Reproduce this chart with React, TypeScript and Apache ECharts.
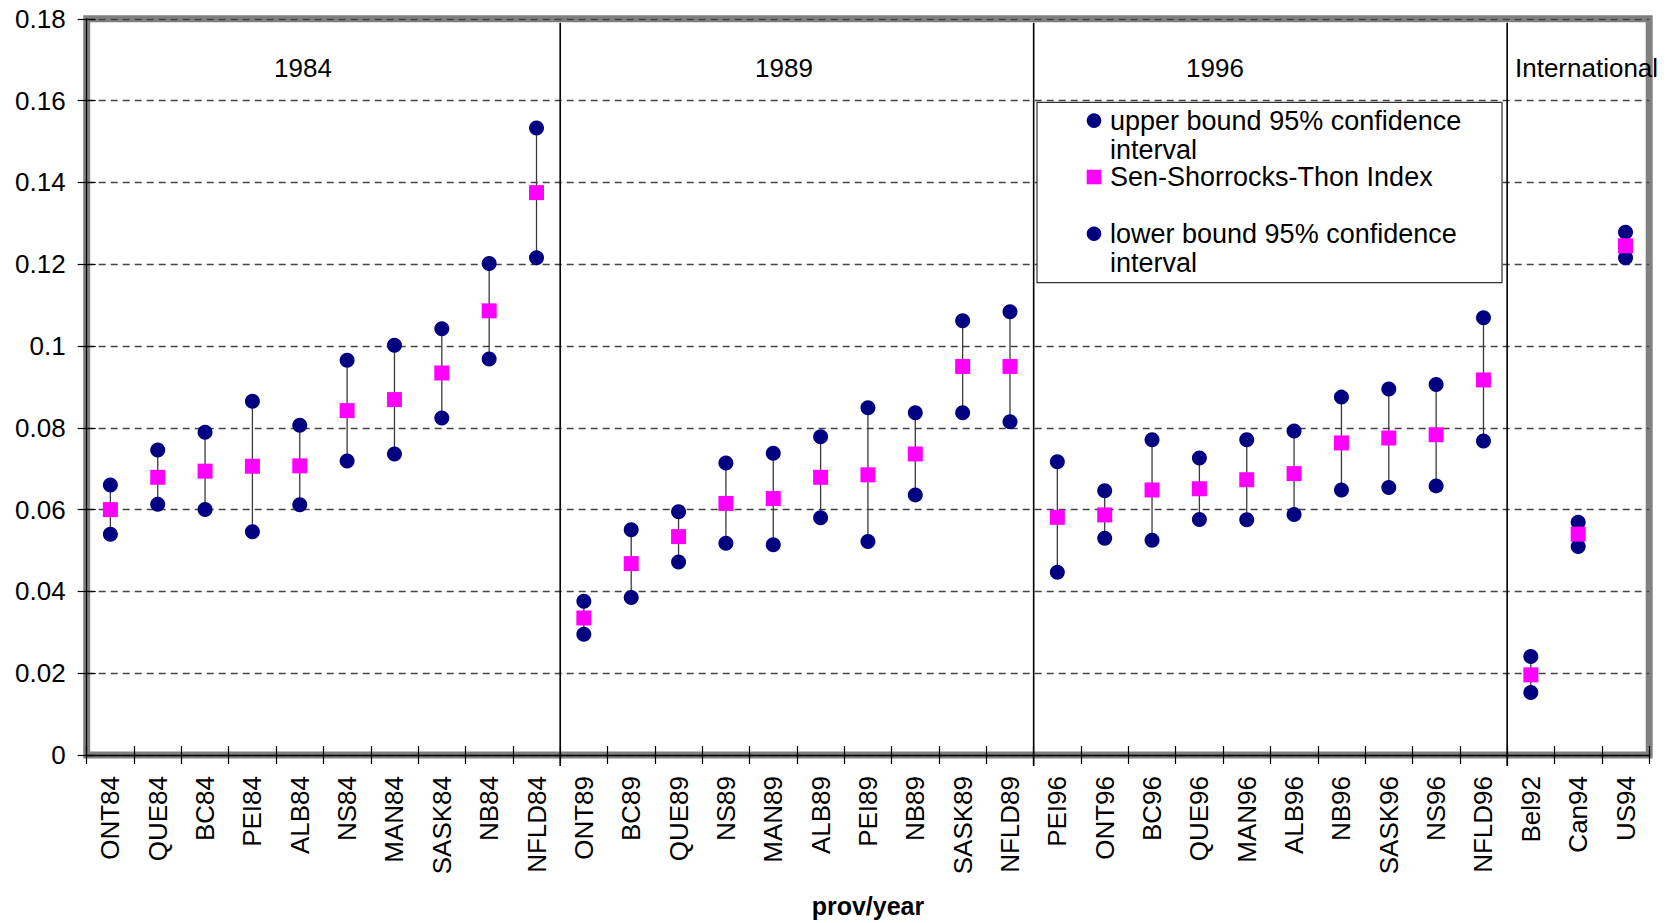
import React, { useEffect, useRef } from "react";
import * as echarts from "echarts";

const categories = [
  "ONT84", "QUE84", "BC84", "PEI84", "ALB84", "NS84", "MAN84", "SASK84", "NB84", "NFLD84",
  "ONT89", "BC89", "QUE89", "NS89", "MAN89", "ALB89", "PEI89", "NB89", "SASK89", "NFLD89",
  "PEI96", "ONT96", "BC96", "QUE96", "MAN96", "ALB96", "NB96", "SASK96", "NS96", "NFLD96",
  "Bel92", "Can94", "US94",
];

const upperBound = [
  0.066, 0.0746, 0.0789, 0.0865, 0.0806, 0.0965, 0.1002, 0.1042, 0.1202, 0.1533,
  0.0376, 0.0551, 0.0595, 0.0714, 0.0738, 0.0778, 0.0849, 0.0837, 0.1062, 0.1084,
  0.0717, 0.0646, 0.0771, 0.0726, 0.0771, 0.0792, 0.0875, 0.0895, 0.0906, 0.1069,
  0.0241, 0.0569, 0.1278,
];

const sstIndex = [
  0.06, 0.0679, 0.0694, 0.0706, 0.0707, 0.0842, 0.0869, 0.0934, 0.1086, 0.1375,
  0.0335, 0.0468, 0.0534, 0.0615, 0.0627, 0.0679, 0.0685, 0.0736, 0.095, 0.095,
  0.0581, 0.0587, 0.0648, 0.0651, 0.0673, 0.0688, 0.0763, 0.0775, 0.0783, 0.0917,
  0.0196, 0.054, 0.1245,
];

const lowerBound = [
  0.054, 0.0613, 0.06, 0.0546, 0.0612, 0.0719, 0.0736, 0.0824, 0.0968, 0.1216,
  0.0295, 0.0385, 0.0472, 0.0518, 0.0514, 0.058, 0.0522, 0.0636, 0.0837, 0.0815,
  0.0447, 0.053, 0.0525, 0.0576, 0.0575, 0.0588, 0.0648, 0.0654, 0.0658, 0.0768,
  0.0153, 0.051, 0.1216,
];

const groupLabels = ["1984", "1989", "1996", "International"];
const groupBreaks = [10, 20, 30];
const seriesNames = [
  "upper bound 95% confidence\ninterval",
  "Sen-Shorrocks-Thon Index",
  "lower bound 95% confidence\ninterval",
];
const yMin = 0;
const yMax = 0.18;
const yStep = 0.02;

const FONT = "'Liberation Sans', Arial, sans-serif";
const NAVY = "#000080";
const MAGENTA = "#FF00FF";

export default function App() {
  const ref = useRef<HTMLDivElement>(null);

  useEffect(() => {
    if (!ref.current) return;
    const chart = echarts.init(ref.current, undefined, { renderer: "svg" });

    const legendX = 1094;
    const textX = 1110;

    const option: any = {
      animation: false,
      backgroundColor: "#ffffff",
      textStyle: { fontFamily: FONT },
      grid: {
        left: 86.7,
        right: 23.8,
        top: 18.8,
        bottom: 165.6,
        show: true,
        borderColor: "#808080",
        borderWidth: 7,
        backgroundColor: "#ffffff",
      },
      xAxis: [
        {
          type: "category",
          data: categories,
          boundaryGap: true,
          name: "prov/year",
          nameLocation: "middle",
          nameGap: 138,
          nameTextStyle: { fontFamily: FONT, fontSize: 25, fontWeight: "bold", color: "#000" },
          axisLine: { show: true, lineStyle: { color: "#000", width: 1.3 } },
          axisTick: { show: true, inside: false, length: 9, lineStyle: { color: "#000", width: 1.2 } },
          axisLabel: {
            rotate: 90,
            margin: 21,
            interval: 0,
            fontFamily: FONT,
            fontSize: 26,
            color: "#000",
          },
          splitLine: { show: false },
        },
        {
          type: "category",
          data: categories,
          boundaryGap: true,
          position: "bottom",
          axisLine: { show: false },
          axisTick: { show: true, inside: true, length: 9, interval: 0, lineStyle: { color: "#000", width: 1.2 } },
          axisLabel: { show: false },
          splitLine: { show: false },
        },
      ],
      yAxis: [
        {
          type: "value",
          min: yMin,
          max: yMax,
          interval: yStep,
          axisLine: { show: true, lineStyle: { color: "#000", width: 1.3 } },
          axisTick: { show: true, inside: false, length: 9, lineStyle: { color: "#000", width: 1.2 } },
          axisLabel: { margin: 21, fontFamily: FONT, fontSize: 26, color: "#000" },
          splitLine: { show: true, lineStyle: { color: "#444", width: 1.3, type: [7, 5] } },
        },
        {
          type: "value",
          min: yMin,
          max: yMax,
          interval: yStep,
          position: "left",
          axisLine: { show: false },
          axisTick: { show: true, inside: true, length: 9, lineStyle: { color: "#000", width: 1.2 } },
          axisLabel: { show: false },
          splitLine: { show: false },
        },
      ],
      series: [
        {
          type: "custom",
          name: "separators",
          clip: false,
          silent: true,
          z: 1,
          data: groupBreaks.map((b) => [b, yMin]),
          encode: { x: 0, y: 1 },
          renderItem: (params: any, api: any) => {
            const idx = api.value(0);
            const top = api.coord([idx, yMax]);
            const bottom = api.coord([idx, yMin]);
            const half = api.size([1, 0])[0] / 2;
            const x = top[0] - half;
            return {
              type: "line",
              shape: { x1: x, y1: top[1] + 4, x2: x, y2: bottom[1] + 11 },
              style: { stroke: "#000", lineWidth: 1.6 },
            };
          },
        },
        {
          type: "custom",
          name: "hi-lo",
          silent: true,
          z: 2,
          data: categories.map((c, i) => [i, lowerBound[i], upperBound[i]]),
          encode: { x: 0, y: [1, 2] },
          renderItem: (params: any, api: any) => {
            const x = api.value(0);
            const lo = api.coord([x, api.value(1)]);
            const hi = api.coord([x, api.value(2)]);
            return {
              type: "line",
              shape: { x1: lo[0], y1: lo[1], x2: hi[0], y2: hi[1] },
              style: { stroke: "#3a3a3a", lineWidth: 1.3 },
            };
          },
        },
        {
          type: "scatter",
          name: seriesNames[0],
          z: 3,
          symbol: "circle",
          symbolSize: 15,
          itemStyle: { color: NAVY, opacity: 1 },
          data: upperBound,
        },
        {
          type: "scatter",
          name: seriesNames[2],
          z: 3,
          symbol: "circle",
          symbolSize: 15,
          itemStyle: { color: NAVY, opacity: 1 },
          data: lowerBound,
        },
        {
          type: "scatter",
          name: seriesNames[1],
          z: 4,
          symbol: "rect",
          symbolSize: 15,
          itemStyle: { color: MAGENTA, opacity: 1 },
          data: sstIndex,
        },
      ],
      graphic: [
        {
          type: "text",
          z: 50,
          x: 303,
          y: 68,
          style: { text: groupLabels[0], font: `26px ${FONT}`, fill: "#000", align: "center", verticalAlign: "middle" },
        },
        {
          type: "text",
          z: 50,
          x: 784,
          y: 68,
          style: { text: groupLabels[1], font: `26px ${FONT}`, fill: "#000", align: "center", verticalAlign: "middle" },
        },
        {
          type: "text",
          z: 50,
          x: 1215,
          y: 68,
          style: { text: groupLabels[2], font: `26px ${FONT}`, fill: "#000", align: "center", verticalAlign: "middle" },
        },
        {
          type: "text",
          z: 50,
          x: 1515,
          y: 68,
          style: { text: groupLabels[3], font: `26px ${FONT}`, fill: "#000", align: "left", verticalAlign: "middle" },
        },
        {
          type: "rect",
          z: 60,
          shape: { x: 1037, y: 102.3, width: 465, height: 180.4 },
          style: { fill: "#ffffff", stroke: "#333", lineWidth: 1.2 },
        },
        {
          type: "circle",
          z: 61,
          shape: { cx: legendX, cy: 120.6, r: 7.3 },
          style: { fill: NAVY },
        },
        {
          type: "rect",
          z: 61,
          shape: { x: legendX - 7.3, y: 177 - 7.3, width: 14.6, height: 14.6 },
          style: { fill: MAGENTA },
        },
        {
          type: "circle",
          z: 61,
          shape: { cx: legendX, cy: 233.7, r: 7.3 },
          style: { fill: NAVY },
        },
        {
          type: "text",
          z: 61,
          x: textX,
          y: 106,
          style: { text: seriesNames[0], font: `27px ${FONT}`, lineHeight: 29.5, fill: "#000", align: "left", verticalAlign: "top" },
        },
        {
          type: "text",
          z: 61,
          x: textX,
          y: 177,
          style: { text: seriesNames[1], font: `27px ${FONT}`, lineHeight: 23, fill: "#000", align: "left", verticalAlign: "middle" },
        },
        {
          type: "text",
          z: 61,
          x: textX,
          y: 219,
          style: { text: seriesNames[2], font: `27px ${FONT}`, lineHeight: 29.5, fill: "#000", align: "left", verticalAlign: "top" },
        },
      ],
    };

    chart.setOption(option);
    return () => {
      chart.dispose();
    };
  }, []);

  return (
    <div
      ref={ref}
      style={{ position: "fixed", left: 0, top: 0, width: 1673, height: 923, background: "#fff" }}
    />
  );
}
